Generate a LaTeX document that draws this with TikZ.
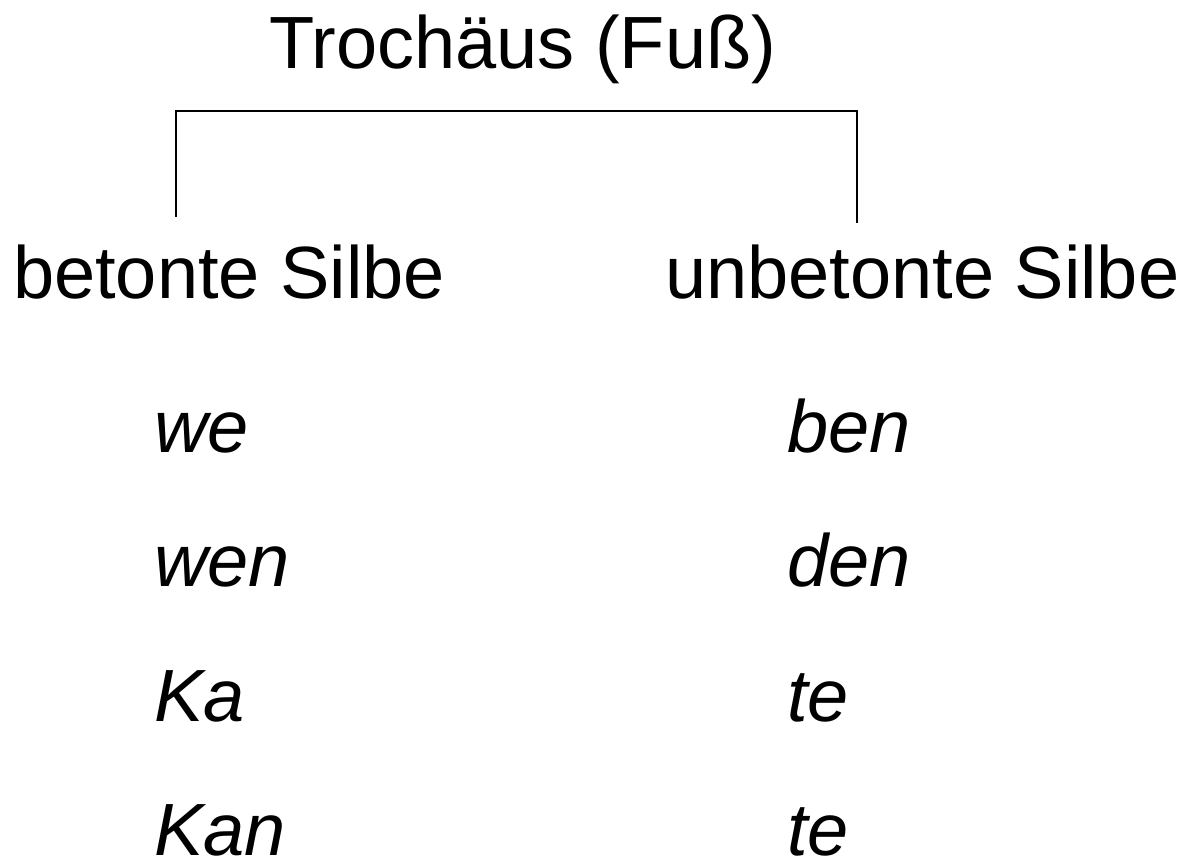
\documentclass[tikz,border=0pt]{standalone}
\usepackage{fontspec}
\setmainfont{Liberation Sans}
\begin{document}
\begin{tikzpicture}[x=1pt,y=-1pt,
  lbl/.style={anchor=base west,inner sep=0pt,outer sep=0pt,font=\fontsize{74}{80}\selectfont},
  syl/.style={lbl,font=\fontsize{74}{80}\selectfont\itshape},
  bar/.style={line width=1.6pt,black}]
\useasboundingbox (0,0) rectangle (1191,858);
\node[lbl] (title) at (269,69) {Trochäus (Fuß)};
\node[lbl] (bet) at (13,299) {betonte Silbe};
\node[lbl] (unb) at (665,299) {unbetonte Silbe};
\node[syl] (s1a) at (154,452) {we};
\node[syl] (s2a) at (154,586) {wen};
\node[syl] (s3a) at (154,721) {Ka};
\node[syl] (s4a) at (154,855) {Kan};
\node[syl] (s1b) at (787,452) {ben};
\node[syl] (s2b) at (787,586) {den};
\node[syl] (s3b) at (787,721) {te};
\node[syl] (s4b) at (787,855) {te};
\coordinate (lfoot) at (176,217);
\coordinate (rfoot) at (857,223);
\coordinate (ltop) at (176,111);
\coordinate (rtop) at (857,111);
\draw[bar] (lfoot) -- (ltop) -- (rtop) -- (rfoot);
\end{tikzpicture}
\end{document}
